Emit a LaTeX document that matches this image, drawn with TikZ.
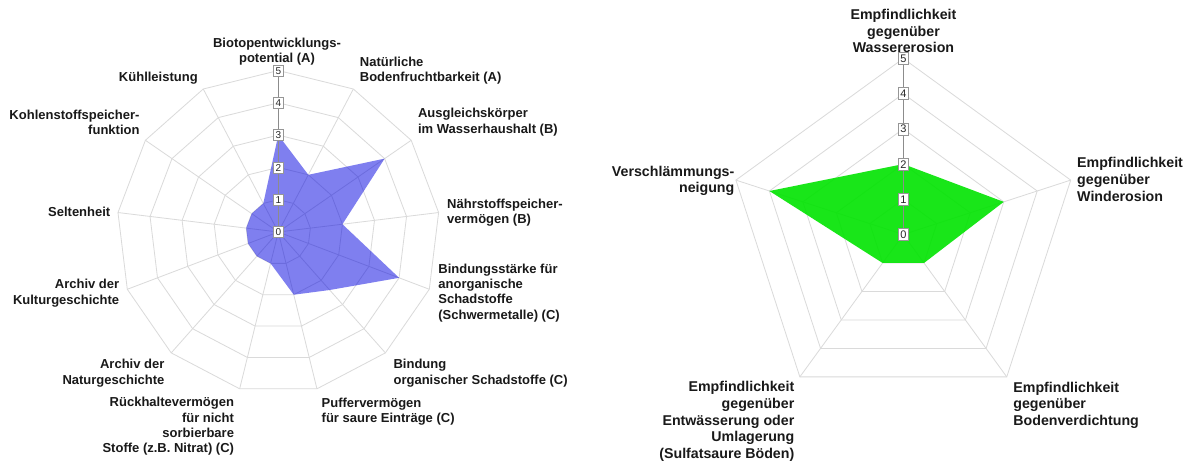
\documentclass[tikz,border=0pt]{standalone}
\usepackage{fontspec}
\setmainfont{Liberation Sans}
\definecolor{gridc}{RGB}{218,218,218}
\definecolor{axisc}{RGB}{140,140,140}
\definecolor{boxc}{RGB}{150,150,150}
\definecolor{digitc}{RGB}{40,40,40}
\definecolor{labc}{RGB}{25,25,25}
\definecolor{bluec}{RGB}{0,0,225}
\definecolor{greenc}{RGB}{0,228,0}
\begin{document}
\begin{tikzpicture}[x=1pt,y=-1pt,
  gridline/.style={draw=gridc, line width=0.8pt},
  axisline/.style={draw=axisc, line width=0.8pt},
  valbox/.style={draw=boxc, line width=0.5pt, fill=white, inner xsep=1.8pt, inner ysep=1.8pt,
     text height=7.3pt, text depth=0pt, font=\fontsize{10}{10}\selectfont, text=digitc},
  valboxR/.style={valbox, inner xsep=2pt, inner ysep=2pt, text height=8pt, font=\fontsize{11}{11}\selectfont},
  lab/.style={inner sep=0pt, font=\bfseries\fontsize{13}{15.3}\selectfont, text=labc},
  labR/.style={inner sep=0pt, font=\bfseries\fontsize{14.2}{16.6}\selectfont, text=labc},
  bluefill/.style={fill=bluec, fill opacity=0.5},
  greenfill/.style={fill=greenc, fill opacity=0.9}
]
\useasboundingbox (0,0) rectangle (1189,464);
\fill[white] (0,0) rectangle (1189,464);

% ---------------- left chart ----------------
\begin{scope}[shift={(278.3,232)}]
  \foreach \k in {0,...,12} \draw[gridline] (0,0) -- ({\k*360/13-90}:161.5);
  \foreach \v in {1,...,5} {
    \draw[gridline] (-90:{\v*32.3}) \foreach \k in {1,...,12} { -- ({\k*360/13-90}:{\v*32.3}) } -- cycle;
  }
  \fill[bluefill] (-90:96.9) -- (-62.31:64.6) -- (-34.62:129.2) -- (-6.92:64.6)
     -- (20.77:129.2) -- (48.46:77.5) -- (76.15:64.6) -- (103.85:32.3)
     -- (131.54:32.3) -- (159.23:32.3) -- (186.92:32.3) -- (214.62:32.3)
     -- (242.31:32.3) -- cycle;
  \draw[axisline] (0,0) -- (0,-161.5);
  \foreach \v in {0,...,5} \node[valbox] (lv\v) at (0,{-\v*32.3}) {\v};
\end{scope}

\node[lab, align=center] (l0) at (277,51.3) {Biotopentwicklungs-\\potential (A)};
\node[lab, align=left, anchor=west] (l1) at (359.7,70.3) {Natürliche\\Bodenfruchtbarkeit (A)};
\node[lab, align=left, anchor=west] (l2) at (417.9,122.2) {Ausgleichskörper\\im Wasserhaushalt (B)};
\node[lab, align=left, anchor=west] (l3) at (447,212.5) {Nährstoffspeicher-\\vermögen (B)};
\node[lab, align=left, anchor=west] (l4) at (438.2,292.9) {Bindungsstärke für\\anorganische\\Schadstoffe\\(Schwermetalle) (C)};
\node[lab, align=left, anchor=west] (l5) at (393.4,373.2) {Bindung\\organischer Schadstoffe (C)};
\node[lab, align=left, anchor=west] (l6) at (321.5,411.5) {Puffervermögen\\für saure Einträge (C)};
\node[lab, align=right, anchor=east] (l7) at (234.2,426.5) {Rückhaltevermögen\\für nicht\\sorbierbare\\Stoffe (z.B. Nitrat) (C)};
\node[lab, align=right, anchor=east] (l8) at (164.6,373.2) {Archiv der\\Naturgeschichte};
\node[lab, align=right, anchor=east] (l9) at (119.4,293.2) {Archiv der\\Kulturgeschichte};
\node[lab, anchor=east] (l10) at (110.5,212.3) {Seltenheit};
\node[lab, align=right, anchor=east] (l11) at (139.7,122.2) {Kohlenstoffspeicher-\\funktion};
\node[lab, anchor=east] (l12) at (197.9,78.3) {Kühlleistung};

% ---------------- right chart ----------------
\begin{scope}[shift={(903.3,234.5)}]
  \foreach \k in {0,...,4} \draw[gridline] (0,0) -- ({\k*72-90}:176);
  \foreach \v in {1,...,5} {
    \draw[gridline] (-90:{\v*35.2}) \foreach \k in {1,...,4} { -- ({\k*72-90}:{\v*35.2}) } -- cycle;
  }
  \fill[greenfill] (-90:70.4) -- (-18:105.6) -- (54:35.2) -- (126:35.2) -- (198:140.8) -- cycle;
  \draw[axisline] (0,0) -- (0,-176);
  \foreach \v in {0,...,5} \node[valboxR] (rv\v) at (0,{-\v*35.2}) {\v};
\end{scope}

\node[labR, align=center] (r0) at (903.5,31) {Empfindlichkeit\\gegenüber\\Wassererosion};
\node[labR, align=left, anchor=west] (r1) at (1077,179.5) {Empfindlichkeit\\gegenüber\\Winderosion};
\node[labR, align=left, anchor=west] (r2) at (1013.2,405) {Empfindlichkeit\\gegenüber\\Bodenverdichtung};
\node[labR, align=right, anchor=east] (r3) at (794.5,421.5) {Empfindlichkeit\\gegenüber\\Entwässerung oder\\Umlagerung\\(Sulfatsaure Böden)};
\node[labR, align=right, anchor=east] (r4) at (734.5,181) {Verschlämmungs-\\neigung};
\end{tikzpicture}
\end{document}
